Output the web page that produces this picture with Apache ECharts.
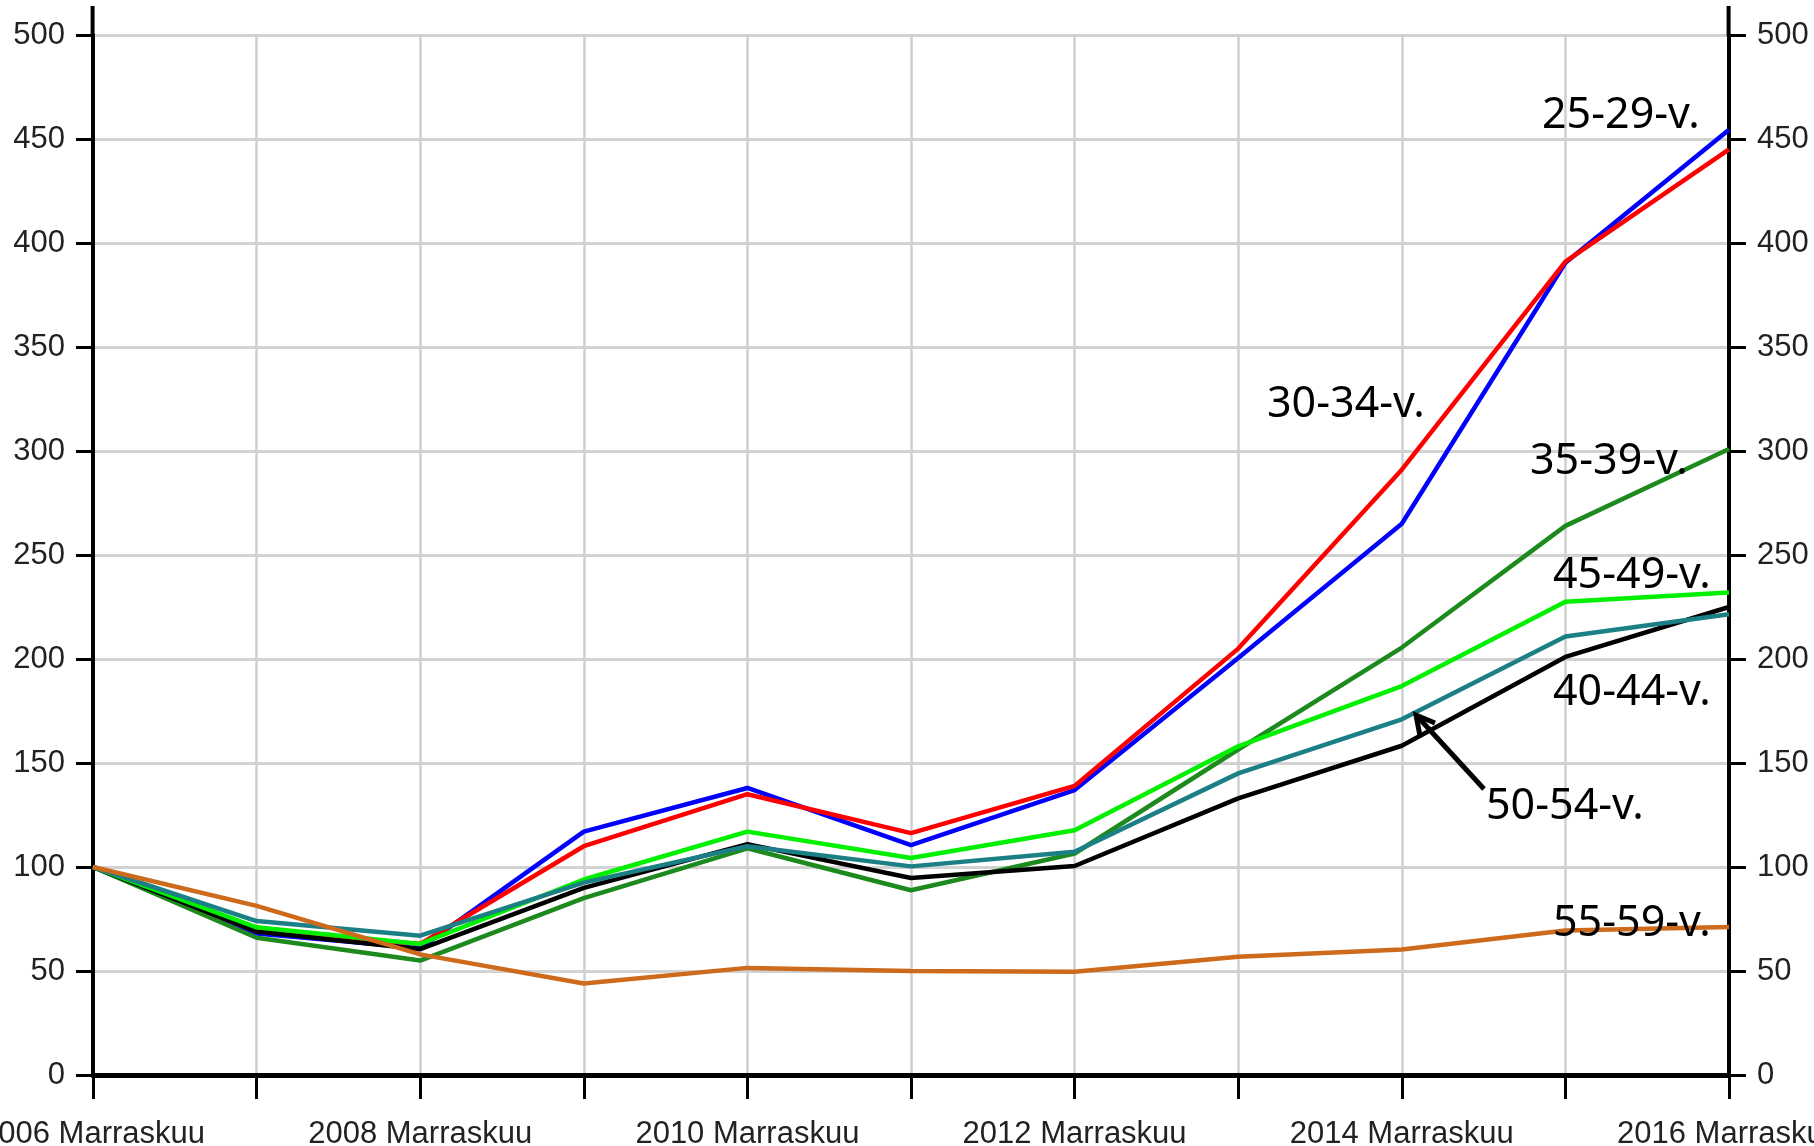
<!DOCTYPE html>
<html>
<head>
<meta charset="utf-8">
<script src="https://cdn.jsdelivr.net/npm/echarts@6/dist/echarts.min.js"></script>
<style>
html,body{margin:0;padding:0;background:#fff;}
#chart{width:1814px;height:1146px;}
</style>
</head>
<body>
<div id="chart"></div>
<script>
const categories = ['2006 Marraskuu','2007 Marraskuu','2008 Marraskuu','2009 Marraskuu','2010 Marraskuu','2011 Marraskuu','2012 Marraskuu','2013 Marraskuu','2014 Marraskuu','2015 Marraskuu','2016 Marraskuu'];
const yTicks = [0,50,100,150,200,250,300,350,400,450,500];

const age25_29 = [100, 68, 61, 117, 138, 110.5, 137, 200.5, 265, 390.5, 454.5];
const age30_34 = [100, 69, 63, 110, 135, 116.3, 139, 205, 291, 391, 445];
const age35_39 = [100, 66, 55, 85, 109, 88.8, 106.5, 156.5, 205.5, 264, 301];
const age40_44 = [100, 69, 60.5, 90, 111, 94.7, 100.5, 133, 158.3, 201, 225];
const age45_49 = [100, 71, 63, 94, 117, 104.3, 117.7, 158, 187, 227.5, 232];
const age50_54 = [100, 74, 67, 92.5, 110, 100.3, 107.3, 145, 171, 210.8, 221.5];
const age55_59 = [100, 81.3, 58, 44, 51.5, 50, 49.6, 56.8, 60.3, 69.5, 71.2];

const seriesNames = ['25-29-v.','30-34-v.','35-39-v.','40-44-v.','45-49-v.','50-54-v.','55-59-v.'];
const seriesData = [age25_29, age30_34, age35_39, age40_44, age45_49, age50_54, age55_59];
const seriesColors = ['#0000ff','#ff0000','#1d8a1d','#000000','#00f000','#1b7f86','#cd6a1c'];

const axisFont = "'Liberation Sans',Arial,sans-serif";
const noteFont = "'Noto Sans','Open Sans',sans-serif";

const chart = echarts.init(document.getElementById('chart'), null, {renderer:'canvas'});

const yAxisBase = {
  type:'value', min:yTicks[0], max:yTicks[yTicks.length-1], interval:50,
  axisLine:{show:true, lineStyle:{color:'#000', width:4}},
  axisTick:{show:true, length:17, lineStyle:{color:'#000', width:3}},
  axisLabel:{margin:28, fontSize:31, fontFamily:axisFont, color:'#222'}
};

const option = {
  animation:false,
  backgroundColor:'#ffffff',
  grid:{left:93, right:85, top:35, bottom:71, containLabel:false, outerBoundsMode:'none'},
  xAxis:{
    type:'category', data:categories, boundaryGap:false,
    axisLine:{lineStyle:{color:'#000', width:5}},
    axisTick:{show:true, interval:0, length:24, lineStyle:{color:'#000', width:3}},
    axisLabel:{interval:1, margin:44, fontSize:31, fontFamily:axisFont, color:'#222', hideOverlap:false},
    splitLine:{show:true, interval:0, lineStyle:{color:'#cfcfcf', width:2.5}}
  },
  yAxis:[
    Object.assign({}, yAxisBase, {position:'left', splitLine:{show:true, lineStyle:{color:'#d2d2d2', width:3}}}),
    Object.assign({}, yAxisBase, {position:'right', splitLine:{show:false}})
  ],
  series: seriesNames.map((n,i)=>({
    name:n, type:'line', data:seriesData[i], yAxisIndex:0,
    symbol:'none', lineStyle:{color:seriesColors[i], width:4.5}, z:3+i
  })),
  graphic:[
    {type:'line', shape:{x1:92.6,y1:6,x2:92.6,y2:36}, style:{stroke:'#000', lineWidth:4}, z:10},
    {type:'line', shape:{x1:1728.6,y1:6,x2:1728.6,y2:36}, style:{stroke:'#000', lineWidth:4}, z:10},
    {type:'text', left:1542, top:94, style:{text:'25-29-v.', font:'43px '+noteFont, fill:'#000'}, z:20},
    {type:'text', left:1267, top:383, style:{text:'30-34-v.', font:'43px '+noteFont, fill:'#000'}, z:20},
    {type:'text', left:1530, top:440, style:{text:'35-39-v.', font:'43px '+noteFont, fill:'#000'}, z:20},
    {type:'text', left:1553, top:554, style:{text:'45-49-v.', font:'43px '+noteFont, fill:'#000'}, z:20},
    {type:'text', left:1553, top:671, style:{text:'40-44-v.', font:'43px '+noteFont, fill:'#000'}, z:20},
    {type:'text', left:1486, top:785, style:{text:'50-54-v.', font:'43px '+noteFont, fill:'#000'}, z:20},
    {type:'text', left:1553, top:902, style:{text:'55-59-v.', font:'43px '+noteFont, fill:'#000'}, z:20},
    {type:'polyline', shape:{points:[[1484,789],[1417,716]]}, style:{stroke:'#000', lineWidth:5, fill:null}, z:20},
    {type:'polyline', shape:{points:[[1420,736],[1416,715],[1435,723]]}, style:{stroke:'#000', lineWidth:5, fill:null, lineJoin:'miter'}, z:20}
  ]
};
chart.setOption(option);
</script>
</body>
</html>
